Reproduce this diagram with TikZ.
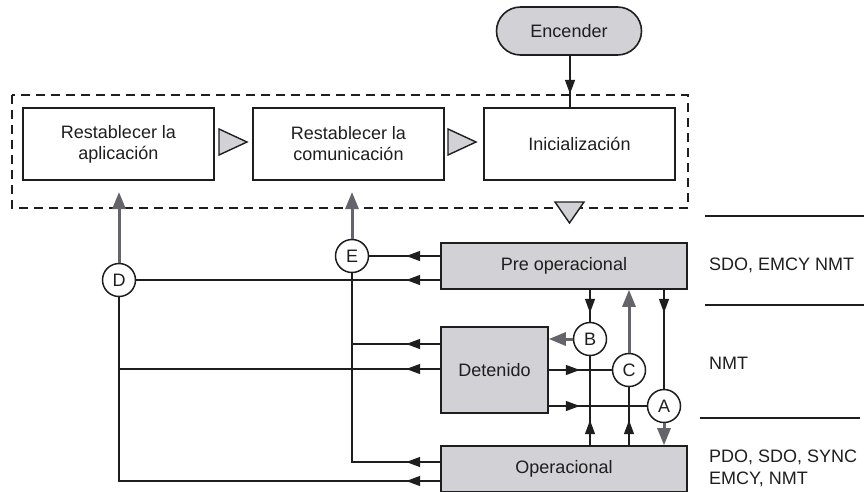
\documentclass[tikz,border=0pt]{standalone}
\usepackage{fontspec}
\setmainfont{Liberation Sans}
\usetikzlibrary{arrows.meta,decorations.markings}
\definecolor{boxgray}{RGB}{209,209,214}
\definecolor{arrgray}{RGB}{100,100,106}
\definecolor{inkgray}{RGB}{30,30,30}

\tikzset{
  txt/.style={font=\fontsize{18}{21}\selectfont, text=inkgray},
  stepbox/.style={draw=inkgray, line width=1.6pt, rectangle, inner sep=0pt,
    align=center, txt, minimum width=191pt, minimum height=72pt},
  statebox/.style={draw=inkgray, line width=1.6pt, rectangle, inner sep=0pt,
    align=center, txt, fill=boxgray},
  startbox/.style={statebox, rounded corners=24pt, minimum width=145pt, minimum height=48pt},
  junction/.style={draw=inkgray, circle, fill=white, line width=1.5pt,
    minimum size=33pt, inner sep=0pt, txt},
  conn/.style={draw=inkgray, line width=1.4pt},
  arrowat/.style={conn, postaction={decorate, decoration={markings,
    mark=at position #1 with {\arrow{Triangle[length=14pt,width=10pt]}}}}},
  grayarrow/.style={draw=arrgray, line width=3pt, -{Triangle[length=17pt,width=13pt]}},
  flowtri/.style={draw=inkgray, line width=1.4pt, fill=boxgray, line join=miter},
  groupframe/.style={draw=inkgray, line width=1.5pt, dash pattern=on 9pt off 6pt},
  sep/.style={draw=inkgray, line width=1.4pt},
  side/.style={txt, anchor=west, inner sep=0pt}
}

\begin{document}
\begin{tikzpicture}[x=1pt, y=-1pt]
  \useasboundingbox (0,0) rectangle (864,491);

  % start node and the reset / initialisation group
  \node[startbox] (enc) at (569,31) {Encender};
  \node[stepbox] (app) at (118.5,144) {Restablecer la\\aplicación};
  \node[stepbox] (com) at (348.5,144) {Restablecer la\\comunicación};
  \node[stepbox] (ini) at (579.5,144) {Inicialización};
  \draw[groupframe] (12,95) rectangle (688,208);

  % flow triangles
  \draw[flowtri] (219,129) -- (247,142) -- (219,155) -- cycle;
  \draw[flowtri] (448,129) -- (476,142) -- (448,155) -- cycle;
  \draw[flowtri] (555,202) -- (584,202) -- (569.5,223) -- cycle;

  \draw[arrowat=38pt] (enc.south -| 570,0) -- (ini.north -| 570,0);

  % NMT states
  \node[statebox, minimum width=246pt, minimum height=46pt] (pre) at (564,266) {Pre operacional};
  \node[statebox, minimum width=107pt, minimum height=86pt] (det) at (494.5,370) {Detenido};
  \node[statebox, minimum width=246pt, minimum height=46pt] (ope) at (564,469) {Operacional};

  % transition junctions
  \node[junction] (B) at (590,339) {B};
  \node[junction] (C) at (629,370) {C};
  \node[junction] (A) at (664,406) {A};
  \node[junction] (E) at (352,256) {E};
  \node[junction] (D) at (119,280) {D};

  % junction E: communication reset
  \coordinate (e1) at (352,344);
  \coordinate (e2) at (352,462);
  \draw[arrowat=34pt] (pre.west |- 0,256) -- (E.east);
  \draw[arrowat=34pt] (det.west |- e1) -- (e1);
  \draw[arrowat=34pt] (ope.west |- e2) -- (e2) -- (E.south);
  \draw[grayarrow] (E.north) -- (352,192);

  % junction D: application reset
  \coordinate (d1) at (119,369);
  \coordinate (d2) at (119,481);
  \draw[arrowat=34pt] (pre.west |- 0,280) -- (D.east);
  \draw[arrowat=34pt] (det.west |- d1) -- (d1);
  \draw[arrowat=34pt] (ope.west |- d2) -- (d2) -- (D.south);
  \draw[grayarrow] (D.north) -- (119,192);

  % junction B: to stopped
  \draw[arrowat=23pt] (pre.south -| B) -- (B.north);
  \draw[arrowat=25pt] (ope.north -| B) -- (B.south);
  \draw[grayarrow] (B.west) -- (det.east |- B);

  % junction C: to pre-operational
  \draw[arrowat=31pt] (det.east |- C) -- (C.west);
  \draw[arrowat=25pt] (ope.north -| C) -- (C.south);
  \draw[grayarrow] (C.north) -- (pre.south -| C);

  % junction A: to operational
  \draw[arrowat=23pt] (pre.south -| A) -- (A.north);
  \draw[arrowat=31pt] (det.east |- A) -- (A.west);
  \draw[grayarrow] (A.south) -- (ope.north -| A);

  % services per state
  \draw[sep] (705,216) -- (864,216);
  \draw[sep] (705,305) -- (864,305);
  \draw[sep] (700,418) -- (860,418);
  \node[side] (s1) at (709,265) {SDO, EMCY NMT};
  \node[side] (s2) at (709,363) {NMT};
  \node[side] (s3) at (709,457) {PDO, SDO, SYNC};
  \node[side] (s4) at (709,479) {EMCY, NMT};
\end{tikzpicture}
\end{document}
